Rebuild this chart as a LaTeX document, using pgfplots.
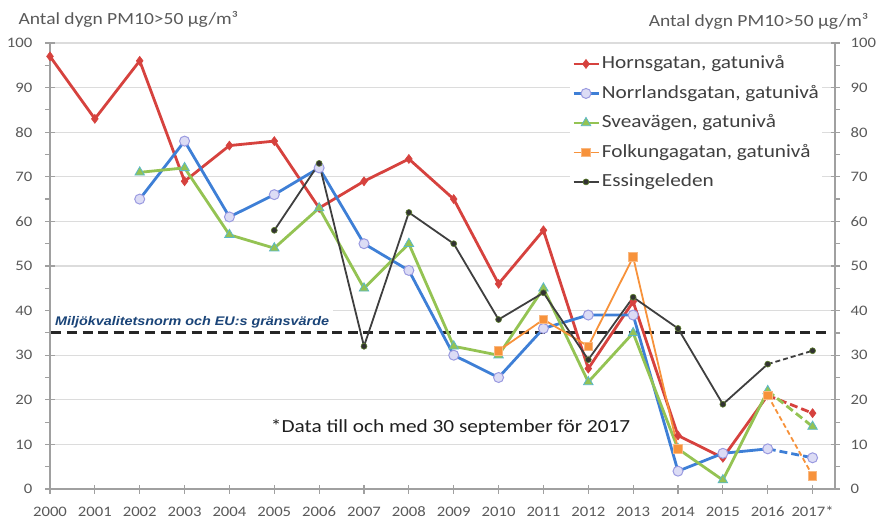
\documentclass[border=0pt]{standalone}
\usepackage{fontspec}
\setmainfont{Carlito}[FakeStretch=1.15]
\newfontfamily\normfont{Liberation Sans}[FakeStretch=1.15]
\usepackage{pgfplots}
\pgfplotsset{compat=1.18}
\definecolor{hred}{HTML}{D6423E}
\definecolor{nblue}{HTML}{3E7FD6}
\definecolor{nfill}{HTML}{DCDCF5}
\definecolor{nedge}{HTML}{9A9AE0}
\definecolor{sgreen}{HTML}{94C353}
\definecolor{sedge}{HTML}{5BB8C8}
\definecolor{forange}{HTML}{F7923B}
\definecolor{fedge}{HTML}{F9B880}
\definecolor{edark}{HTML}{3F3F3F}
\definecolor{eedge}{HTML}{5E7F2E}
\definecolor{txtgray}{HTML}{595959}
\definecolor{legtext}{HTML}{404040}
\definecolor{axgray}{HTML}{A0A0A0}
\definecolor{gridgray}{HTML}{DCDCDC}
\definecolor{normblue}{HTML}{1A4478}
\pgfplotsset{
  base/.style={scale only axis, width=785pt, height=446pt,
    xmin=0, xmax=17.5, ymin=0, ymax=100,
    ytick={0,10,...,100}, minor y tick num=1,
    tick align=center, major tick length=9pt, minor tick length=5pt,
    axis line style={axgray, line width=1.2pt},
    tick style={axgray, line width=1.2pt},
    ticklabel style={font=\fontsize{14.5}{16}\selectfont, text=txtgray, inner sep=0pt},
    /pgf/number format/assume math mode=true, clip=false},
  hstyle/.style={hred, line width=2.8pt, mark=diamond*, mark size=4.5pt,
    mark options={fill=hred, draw=hred, line width=0.6pt, solid}},
  nstyle/.style={nblue, line width=2.8pt, mark=*, mark size=5pt,
    mark options={fill=nfill, draw=nedge, line width=1pt, solid}},
  sstyle/.style={sgreen, line width=2.8pt, mark=triangle*, mark size=5.5pt,
    mark options={fill=sgreen, draw=sedge, line width=0.8pt, solid}},
  fstyle/.style={forange, line width=1.8pt, mark=square*, mark size=4.3pt,
    mark options={fill=forange, draw=fedge, line width=0.8pt, solid}},
  estyle/.style={edark, line width=1.8pt, mark=*, mark size=3pt,
    mark options={fill=edark!80!black, draw=eedge, line width=0.6pt, solid}},
}
\begin{document}
\begin{tikzpicture}
\useasboundingbox (-50pt,-33pt) rectangle (827pt,489pt);
\begin{axis}[base,
  axis x line*=bottom, axis y line*=left,
  xtick={0,...,17},
  xticklabels={2000,2001,2002,2003,2004,2005,2006,2007,2008,2009,2010,2011,2012,2013,2014,2015,2016,2017*},
  ymajorgrids, grid style={gridgray, line width=1.2pt},
  yticklabel shift=13pt, xticklabel shift=13pt,
  every minor tick/.append style={xshift=-2.5pt},
  unbounded coords=jump,
  legend cell align=left,
  legend image code/.code={\draw[mark repeat=2,mark phase=2] plot coordinates {(0pt,0pt) (12.5pt,0pt) (25pt,0pt)};},
  legend style={at={(axis cs:11.59,98.1)}, anchor=north west, draw=none, fill=white,
    font=\fontsize{18.5}{20}\selectfont, text=legtext, inner sep=2pt, row sep=9pt,
    nodes={inner sep=1pt, text height=14pt, text depth=4.5pt},
    /tikz/every odd column/.append style={column sep=1pt}},
]
% white box behind the limit-value label
\node[anchor=west, fill=white, inner xsep=4pt, inner ysep=6pt, text=normblue,
  font=\normfont\bfseries\itshape\fontsize{12.5}{14}\selectfont] at (axis cs:0.02,37.4)
  {Miljökvalitetsnorm och EU:s gränsvärde};
% limit value line
\addplot[black!85, line width=2.8pt, dash pattern=on 10pt off 5.6pt, forget plot]
  coordinates {(0.03,35) (17.4,35)};

\addplot[hstyle] coordinates {(0,97)(1,83)(2,96)(3,69)(4,77)(5,78)(6,63)(7,69)(8,74)(9,65)(10,46)(11,58)(12,27)(13,42)(14,12)(15,7)(16,21)};
\addlegendentry{Hornsgatan, gatunivå}
\addplot[nstyle] coordinates {(2,65)(3,78)(4,61)(5,66)(6,72)(7,55)(8,49)(9,30)(10,25)(11,36)(12,39)(13,39)(14,4)(15,8)(16,9)};
\addlegendentry{Norrlandsgatan, gatunivå}
\addplot[sstyle] coordinates {(2,71)(3,72)(4,57)(5,54)(6,63)(7,45)(8,55)(9,32)(10,30)(11,45)(12,24)(13,35)(14,9)(15,2)(16,22)};
\addlegendentry{Sveavägen, gatunivå}
\addplot[fstyle] coordinates {(10,31)(11,38)(12,32)(13,52)(14,9)(15,nan)(16,21)};
\addlegendentry{Folkungagatan, gatunivå}
\addplot[estyle] coordinates {(5,58)(6,73)(7,32)(8,62)(9,55)(10,38)(11,44)(12,29)(13,43)(14,36)(15,19)(16,28)};
\addlegendentry{Essingeleden}

% 2017 (partial year), dashed
\addplot[hstyle, dash pattern=on 8pt off 4pt, mark indices={2}, forget plot] coordinates {(16,21)(17,17)};
\addplot[nstyle, dash pattern=on 8pt off 4pt, mark indices={2}, forget plot] coordinates {(16,9)(17,7)};
\addplot[sstyle, dash pattern=on 8pt off 4pt, mark indices={2}, forget plot] coordinates {(16,22)(17,14)};
\addplot[fstyle, dash pattern=on 5pt off 3pt, mark indices={2}, forget plot] coordinates {(16,21)(17,3)};
\addplot[estyle, dash pattern=on 5pt off 3pt, mark indices={2}, forget plot] coordinates {(16,28)(17,31)};

\node[font=\fontsize{18.5}{20}\selectfont, text=black!88] at (axis cs:8.93,13.9)
  {*Data till och med 30 september för 2017};
\end{axis}
\begin{axis}[base,
  axis x line=none, axis y line*=right,
  yticklabel shift=11pt,
  every minor tick/.append style={xshift=2.5pt},
]
\end{axis}
\node[anchor=west, font=\fontsize{17}{20}\selectfont, text=txtgray] at (-35pt,470pt) {Antal dygn PM10>50 µg/m³};
\node[anchor=east, font=\fontsize{17}{20}\selectfont, text=txtgray] at (822pt,468pt) {Antal dygn PM10>50 µg/m³};
\end{tikzpicture}
\end{document}
